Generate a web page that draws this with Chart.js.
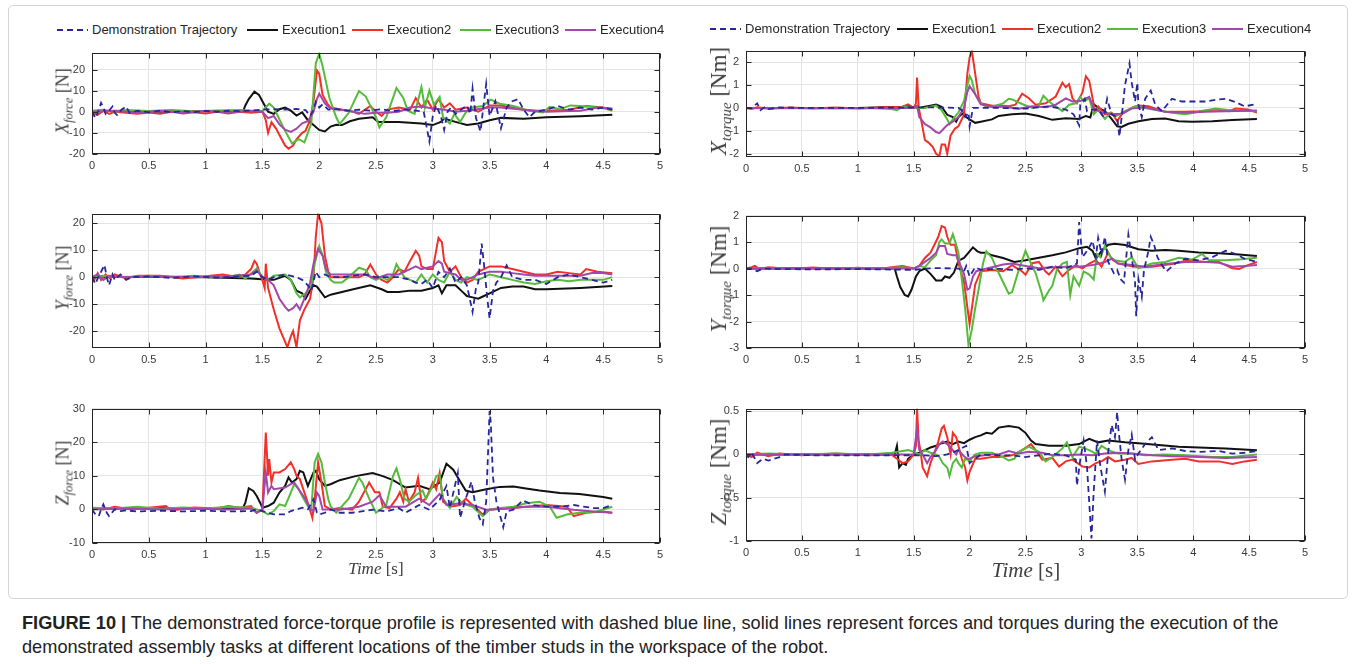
<!DOCTYPE html>
<html>
<head>
<meta charset="utf-8">
<script src="https://cdn.jsdelivr.net/npm/chart.js@4/dist/chart.umd.min.js"></script>
<style>
  body { margin: 0; background: #fff; width: 1355px; height: 664px; overflow: hidden; position: relative; font-family: "Liberation Sans", Arial, sans-serif; }
  #moldura { position: absolute; left: 8px; top: 5px; width: 1338px; height: 592px; border: 1px solid #d4d4d4; border-radius: 5px; }
  .painel { position: absolute; }
  .painel canvas { display: block; }
  .eixo-y { position: absolute; transform: translate(-50%, -50%) rotate(-90deg); white-space: nowrap; font-family: "Liberation Serif", "DejaVu Serif", serif; color: #404040; }
  .eixo-y i, .eixo-x i { font-style: italic; }
  .eixo-y sub { font-style: italic; vertical-align: -0.35em; line-height: 0; }
  .eixo-x { position: absolute; transform: translate(-50%, -50%); white-space: nowrap; font-family: "Liberation Serif", "DejaVu Serif", serif; color: #404040; }
  .leg { position: absolute; height: 16px; line-height: 16px; display: flex; align-items: center; font-size: 13px; color: #262626; white-space: nowrap; }
  .leg span.linha { display: inline-block; width: 31px; height: 2px; margin-right: 4px; }
  #legenda-fig { position: absolute; left: 22px; top: 611px; font-size: 18.2px; line-height: 24px; color: #222; white-space: nowrap; }
</style>
</head>
<body>
<div id="moldura"></div>
<div id="legenda-fig"><b>FIGURE 10 |</b> The demonstrated force-torque profile is represented with dashed blue line, solid lines represent forces and torques during the execution of the<br>demonstrated assembly tasks at different locations of the timber studs in the workspace of the robot.</div>
<script>
// DATA
const seriesNames = ['Demonstration Trajectory', 'Execution1', 'Execution2', 'Execution3', 'Execution4'];
const timeTicks = [0, 0.5, 1, 1.5, 2, 2.5, 3, 3.5, 4, 4.5, 5];

// X force [N]
const xfTicks = [-20, -10, 0, 10, 20];
const xfDemo = [[0,0],[0.03,-3],[0.06,1],[0.08,4.2],[0.1,2],[0.12,-1],[0.15,0.5],[0.18,2.5],[0.2,-0.5],[0.22,-1.5],[0.26,1],[0.3,2.5],[0.33,-0.5],[0.4,0.5],[0.5,-0.3],[0.6,0.5],[0.7,-0.3],[0.8,0.3],[0.9,-0.2],[1.0,0.4],[1.1,0],[1.2,0.5],[1.3,0.3],[1.4,0.6],[1.5,1],[1.6,1.2],[1.7,1],[1.8,1.3],[1.88,0.8],[1.92,-2],[1.95,1],[1.97,4.7],[2.0,2],[2.03,3.5],[2.08,1],[2.15,1.2],[2.25,0.5],[2.35,1],[2.45,0.5],[2.55,1.2],[2.65,0.3],[2.75,1],[2.85,0.5],[2.92,0],[2.97,-14],[3.0,-2],[3.03,3],[3.07,-2],[3.1,-8.6],[3.13,0],[3.16,2],[3.2,-1],[3.25,1],[3.3,3],[3.33,-1],[3.35,11],[3.38,-3],[3.42,-9.3],[3.44,0],[3.47,13.2],[3.5,-2],[3.55,5],[3.6,-7.8],[3.65,2],[3.7,5],[3.75,6],[3.8,1],[3.85,-2.6],[3.9,0],[4.0,1],[4.1,2.7],[4.2,1],[4.3,2],[4.4,1],[4.5,2],[4.58,1]];
const xfExec1 = [[0,0.2],[0.3,0.5],[0.6,0],[0.9,0.3],[1.2,0],[1.33,0.2],[1.35,3],[1.38,6],[1.43,9.5],[1.47,8],[1.5,5],[1.55,0],[1.6,-1],[1.65,1.2],[1.7,2],[1.75,0.5],[1.8,-1.8],[1.85,-0.3],[1.9,-4],[1.95,-6.3],[2.0,-8.6],[2.05,-9.3],[2.1,-7],[2.15,-6.2],[2.2,-6.3],[2.27,-4.5],[2.35,-3.3],[2.47,-2.6],[2.52,-4.8],[2.7,-4.8],[2.9,-5.6],[3.0,-6.3],[3.07,-4.8],[3.1,-3.3],[3.2,-4.8],[3.3,-6.3],[3.4,-5.6],[3.5,-4],[3.6,-2.9],[3.8,-3.3],[4.0,-2.6],[4.3,-2.1],[4.58,-1.4]];
const xfExec2 = [[0,-0.5],[0.05,-1.5],[0.1,0.5],[0.15,-1],[0.2,0],[0.3,-0.5],[0.4,-1],[0.5,-0.3],[0.6,-1],[0.7,0],[0.8,-0.8],[0.9,-0.2],[1.0,-0.8],[1.1,0],[1.2,-0.8],[1.3,0],[1.4,-0.5],[1.5,0],[1.53,-4],[1.55,-10],[1.58,-5],[1.62,-8],[1.65,-11],[1.7,-16],[1.73,-17.5],[1.77,-16],[1.8,-13],[1.85,-10],[1.88,-9],[1.92,-4],[1.95,5],[1.98,19.5],[2.0,18],[2.03,8],[2.07,4],[2.1,2],[2.2,1],[2.3,0],[2.35,-1],[2.45,2.7],[2.5,0],[2.55,-2],[2.6,1],[2.7,2],[2.8,1],[2.85,6.5],[2.9,2],[2.95,5.7],[3.0,1],[3.05,6],[3.1,2],[3.15,4],[3.2,1],[3.3,2],[3.4,0],[3.5,3],[3.6,3],[3.7,2],[3.8,1],[3.9,0.5],[4.0,0.5],[4.2,1],[4.35,2.7],[4.5,2],[4.58,1]];
const xfExec3 = [[0,0.5],[0.1,1],[0.2,0],[0.3,0.8],[0.5,0.3],[0.7,0.8],[0.9,0.2],[1.1,0.6],[1.3,0.8],[1.45,0.3],[1.5,0.5],[1.56,3.8],[1.6,2],[1.68,-7],[1.76,-15],[1.82,-13],[1.87,-14.5],[1.93,-5.6],[1.97,23],[2.0,27.5],[2.03,21.5],[2.09,6.5],[2.15,-2.6],[2.18,-5.9],[2.26,-0.5],[2.35,9.8],[2.41,7.2],[2.5,-2.6],[2.53,-7.5],[2.59,-2.6],[2.68,11.3],[2.74,6.5],[2.78,0.5],[2.84,-1],[2.9,11.7],[2.93,2],[2.97,10],[3.01,3.4],[3.06,7],[3.09,-2.6],[3.15,-5.6],[3.19,-1],[3.24,-4.8],[3.29,-0.3],[3.35,2],[3.44,2.7],[3.51,5.7],[3.59,3.8],[3.71,2.7],[3.85,0.5],[3.97,-0.3],[4.03,2.3],[4.12,1.2],[4.21,3],[4.29,2.7],[4.41,2.3],[4.5,1.7],[4.58,0.5]];
const xfExec4 = [[0,0],[0.2,0.5],[0.4,-0.3],[0.6,0.3],[0.8,-0.2],[1.0,0.3],[1.2,-0.2],[1.4,0.3],[1.5,0],[1.55,-3],[1.6,-2],[1.65,-6],[1.7,-8.5],[1.75,-9.5],[1.8,-8],[1.85,-5.5],[1.9,-4.5],[1.95,0],[1.98,6],[2.0,8.5],[2.05,4],[2.1,1.5],[2.2,1],[2.3,0],[2.4,-1],[2.5,-0.5],[2.6,-0.5],[2.7,0],[2.8,2],[2.9,2.5],[3.0,1.5],[3.1,1],[3.2,0],[3.3,0.5],[3.5,2],[3.6,2],[3.8,1],[4.0,0],[4.3,0.5],[4.45,2],[4.58,1.5]];

// Y force [N]
const yfTicks = [-20, -10, 0, 10, 20];
const yfDemo = [[0,0],[0.03,-2.5],[0.06,0.5],[0.08,2],[0.11,4.5],[0.13,0],[0.15,-3],[0.18,1],[0.2,-1],[0.25,1],[0.3,-1],[0.35,0],[0.5,0.3],[0.7,-0.3],[0.9,0.3],[1.1,-0.2],[1.3,0.3],[1.4,0.5],[1.45,2],[1.5,0],[1.55,-1],[1.6,0],[1.7,1],[1.8,0],[1.85,-1],[1.9,-3],[1.93,-5],[1.97,2],[2.0,0],[2.05,1],[2.1,0],[2.2,0],[2.4,1],[2.5,0],[2.7,0],[2.8,-1],[2.85,-2],[2.9,-2.5],[2.95,-1],[3.0,-4],[3.05,2],[3.1,0],[3.15,3.2],[3.2,-2],[3.25,0],[3.3,-3],[3.35,-12.9],[3.38,-4],[3.4,-2],[3.43,12.5],[3.45,5],[3.48,-8],[3.5,-15.3],[3.53,-5],[3.56,-2],[3.6,0],[3.65,4.4],[3.7,0],[3.8,-1],[3.9,-1],[4.0,-2.5],[4.1,0],[4.2,1],[4.3,0],[4.4,-1],[4.5,-2],[4.58,-1]];
const yfExec1 = [[0,0],[0.5,0.2],[1.0,0],[1.4,-0.5],[1.55,-1],[1.6,-1],[1.7,0.5],[1.75,-1],[1.8,-5],[1.85,-6],[1.88,-8],[1.92,-5],[1.95,-3],[1.98,-3.5],[2.05,-7.5],[2.1,-6.5],[2.2,-5.5],[2.3,-4.5],[2.45,-3],[2.55,-4.5],[2.6,-5.5],[2.7,-5.5],[2.8,-5],[2.9,-5],[3.0,-4],[3.05,-3],[3.08,-6],[3.12,-3],[3.2,-3],[3.25,-5],[3.3,-7],[3.35,-7.5],[3.4,-8],[3.45,-7],[3.5,-6],[3.6,-4],[3.7,-3.5],[3.8,-3.5],[3.9,-4.5],[4.0,-4.5],[4.3,-4],[4.58,-3.3]];
const yfExec2 = [[0,1],[0.02,-1],[0.05,1.5],[0.08,-1],[0.12,1],[0.16,-0.5],[0.2,1],[0.3,-0.5],[0.4,0.5],[0.6,0.5],[0.8,-0.5],[1.0,0.3],[1.15,1],[1.3,0],[1.35,1],[1.4,3],[1.43,6],[1.45,5],[1.48,1],[1.5,-1],[1.52,-4],[1.53,5],[1.55,-4],[1.6,-12],[1.65,-19],[1.7,-24],[1.72,-26],[1.75,-22],[1.77,-20],[1.8,-26],[1.83,-16],[1.87,-12],[1.92,-8],[1.95,0],[1.97,15],[1.99,23.5],[2.02,20],[2.05,8],[2.08,2],[2.1,0],[2.2,0],[2.35,0],[2.4,1],[2.45,4.7],[2.5,1],[2.55,-1],[2.6,-2],[2.65,0],[2.7,3],[2.75,2],[2.8,6],[2.85,9.8],[2.88,8],[2.9,4],[2.95,3],[3.0,3],[3.05,14.6],[3.08,13],[3.1,6],[3.15,2],[3.2,4],[3.25,0],[3.3,-2],[3.35,-1],[3.4,2],[3.5,4],[3.6,4],[3.7,3],[3.8,2],[3.9,1],[4.0,1],[4.1,2],[4.2,1.5],[4.3,1],[4.35,3],[4.45,2],[4.58,1.5]];
const yfExec3 = [[0,0],[0.1,0.5],[0.3,0],[0.5,0.5],[0.7,0],[0.9,0.5],[1.1,0],[1.25,0.5],[1.3,1],[1.35,-0.5],[1.45,3.2],[1.5,0],[1.55,-1],[1.6,0.5],[1.7,1],[1.75,-1],[1.8,-6],[1.83,-7.5],[1.88,-6],[1.93,-3],[1.96,5],[2.0,11.5],[2.03,8],[2.06,2],[2.1,-1],[2.13,-2],[2.2,-2],[2.26,0],[2.35,3.5],[2.41,2.6],[2.45,0],[2.5,-1],[2.55,0],[2.6,-1],[2.65,1],[2.68,4.8],[2.72,2],[2.75,0],[2.8,-1],[2.85,-2],[2.9,1],[2.95,-2],[3.0,1],[3.05,-1],[3.1,-2],[3.15,2],[3.2,-1],[3.25,-2],[3.3,0],[3.4,-1],[3.5,1],[3.55,0.5],[3.6,0],[3.7,-1],[3.8,-2],[3.9,-2.5],[4.0,-1.5],[4.1,-1],[4.2,-1.5],[4.3,-1],[4.4,-1],[4.5,-1],[4.58,0]];
const yfExec4 = [[0,0],[0.05,1],[0.1,-1],[0.15,0.5],[0.3,0],[0.6,0.3],[0.9,0],[1.2,0.3],[1.4,1],[1.45,2.5],[1.5,0],[1.55,-1],[1.6,-3],[1.65,-8],[1.7,-11],[1.73,-12.5],[1.77,-11.5],[1.8,-10],[1.83,-12],[1.87,-8],[1.92,-2],[1.95,5],[1.99,10.5],[2.03,8],[2.06,3],[2.1,1],[2.2,1],[2.3,1],[2.4,1],[2.5,-0.5],[2.6,1],[2.7,1],[2.8,3],[2.85,4],[2.9,3],[3.0,4],[3.05,6],[3.08,5],[3.1,2],[3.2,1],[3.25,-1],[3.3,-1],[3.4,1],[3.5,2],[3.6,2],[3.7,1.5],[3.8,1],[3.9,0.5],[4.0,0.5],[4.2,0.5],[4.3,0.5],[4.4,1.5],[4.5,1.5],[4.58,1]];

// Z force [N]
const zfTicks = [-10, 0, 10, 20, 30];
const zfDemo = [[0,0],[0.03,-1.5],[0.06,-2],[0.08,0],[0.1,1.5],[0.13,-1],[0.15,-2],[0.2,0],[0.25,-0.5],[0.3,-0.3],[0.4,-0.6],[0.6,-0.4],[0.8,-0.6],[1.0,-0.4],[1.2,-0.6],[1.4,-0.5],[1.45,0],[1.5,-0.5],[1.55,-1],[1.6,-1.5],[1.7,-1.5],[1.75,-0.5],[1.8,0],[1.85,0.5],[1.9,0],[1.95,3],[1.98,-1],[2.0,-1.5],[2.05,-1],[2.1,0],[2.18,-1],[2.29,-1],[2.47,-0.1],[2.59,-0.6],[2.7,0.4],[2.76,-1],[2.88,1.3],[2.97,-0.1],[3.06,2.8],[3.12,7],[3.15,0.4],[3.22,10.8],[3.24,-2.5],[3.29,3.2],[3.34,8.2],[3.37,2.3],[3.41,-2.5],[3.44,-4.4],[3.47,2.3],[3.5,29.3],[3.51,26],[3.53,9.5],[3.56,2.3],[3.59,-1.5],[3.62,-5.3],[3.65,-0.6],[3.71,-0.1],[3.79,2.7],[3.88,1.3],[4.0,0.8],[4.12,0.8],[4.24,1.3],[4.41,0.4],[4.5,0.4],[4.58,1.3]];
const zfExec1 = [[0,0.2],[0.5,0.4],[1.0,0.3],[1.33,0.5],[1.35,2],[1.38,6.3],[1.42,5.5],[1.45,4],[1.48,2],[1.5,0.5],[1.55,1],[1.6,2],[1.65,5],[1.7,7],[1.73,9.5],[1.76,8],[1.8,9],[1.83,11.5],[1.86,11],[1.9,7],[1.95,11],[1.97,11.5],[2.0,9],[2.05,7],[2.1,7.5],[2.18,8.7],[2.32,9.9],[2.47,10.8],[2.56,9.9],[2.65,8.7],[2.76,6.5],[2.88,7],[2.97,6],[3.06,8],[3.12,13.6],[3.18,11.8],[3.24,8.4],[3.29,5.6],[3.35,5.1],[3.47,6],[3.59,6.7],[3.71,6.8],[3.82,6.2],[3.94,5.6],[4.12,4.9],[4.29,4.6],[4.5,3.7],[4.58,3.2]];
const zfExec2 = [[0,0.5],[0.1,0],[0.2,0.8],[0.35,0],[0.5,0.5],[0.65,1],[0.7,-0.3],[0.9,0.6],[1.1,0.3],[1.2,1],[1.3,0.5],[1.4,1],[1.45,-1],[1.5,0],[1.53,22.9],[1.55,10],[1.56,15],[1.58,8],[1.6,11],[1.65,11],[1.7,12],[1.75,14],[1.78,12],[1.8,10],[1.83,9],[1.87,5],[1.9,2],[1.94,-2.5],[1.96,3],[1.99,14],[2.02,8],[2.05,1],[2.1,0],[2.18,0.4],[2.29,-0.1],[2.35,2.3],[2.44,8],[2.49,5.1],[2.53,5.1],[2.56,0.8],[2.62,0.4],[2.68,3.2],[2.71,5.1],[2.74,2.3],[2.76,6],[2.79,2.3],[2.84,5.1],[2.87,9.4],[2.9,2.3],[2.94,3.2],[3.0,8],[3.03,6],[3.06,10.8],[3.09,2.3],[3.15,0.8],[3.24,1.3],[3.29,3.2],[3.35,1.3],[3.44,-1.5],[3.5,-0.1],[3.65,0.4],[3.82,0.8],[4.0,1.3],[4.18,0.8],[4.24,-2],[4.35,-1],[4.5,-0.6],[4.58,-1]];
const zfExec3 = [[0,0.5],[0.2,0.3],[0.4,0.8],[0.6,0.2],[0.8,0.6],[1.0,0.3],[1.2,0.8],[1.4,0.5],[1.5,-0.5],[1.55,-1.5],[1.6,-0.5],[1.65,1.5],[1.7,1],[1.75,5],[1.78,7.5],[1.82,6],[1.85,4],[1.9,1],[1.93,0],[1.96,14],[1.99,16.5],[2.02,14],[2.05,8],[2.08,3],[2.1,1],[2.15,-1],[2.2,1],[2.26,3.2],[2.35,9.4],[2.38,8],[2.44,3.2],[2.5,-1],[2.59,1.3],[2.65,9.9],[2.68,12.2],[2.71,8.9],[2.75,3.2],[2.79,2.3],[2.85,4.2],[2.91,5.6],[2.94,3.2],[3.0,7],[3.03,9.9],[3.06,10.4],[3.09,3.2],[3.15,0.4],[3.21,3.7],[3.26,1.8],[3.35,0.8],[3.44,-2],[3.5,-0.1],[3.59,0.4],[3.71,0.8],[3.82,1.8],[3.94,2.3],[4.03,0.8],[4.09,-2.5],[4.18,-1.5],[4.29,-1],[4.44,-0.6],[4.58,0.8]];
const zfExec4 = [[0,0],[0.3,0.3],[0.6,0],[0.9,0.3],[1.2,0],[1.4,0.3],[1.45,-1],[1.5,0],[1.53,11],[1.55,5],[1.58,7],[1.6,6],[1.7,6.5],[1.75,7.5],[1.78,8],[1.82,6],[1.88,3],[1.92,0],[1.95,-0.5],[1.98,5],[2.0,4],[2.03,0],[2.1,0],[2.18,-0.1],[2.35,0.8],[2.47,2.3],[2.53,4.2],[2.59,0.8],[2.76,0.8],[2.88,3.2],[2.97,1.3],[3.06,4.6],[3.12,1.3],[3.24,1.8],[3.35,1.3],[3.47,-0.1],[3.65,0.2],[3.82,0.8],[4.0,0.8],[4.24,-0.1],[4.41,-0.6],[4.58,-1]];

// X torque [Nm]
const xtTicks = [-2, -1, 0, 1, 2];
const xtDemo = [[0,0],[0.05,0],[0.1,0.2],[0.13,-0.1],[0.17,0.05],[0.2,-0.05],[0.3,0.02],[0.5,0],[1.0,0],[1.5,0.02],[1.7,0.02],[1.9,0],[1.93,-0.1],[1.96,-0.4],[1.99,-0.2],[2.0,-0.8],[2.03,0],[2.1,0],[2.26,0],[2.5,-0.03],[2.71,0.07],[2.86,-0.07],[2.93,-0.28],[2.98,-0.76],[2.99,0.14],[3.03,0.4],[3.05,-0.14],[3.1,-0.07],[3.15,-0.07],[3.2,-0.4],[3.23,0.4],[3.27,-0.28],[3.32,-0.4],[3.34,-1.25],[3.36,-0.4],[3.39,1.0],[3.43,1.94],[3.45,1.1],[3.48,0.28],[3.5,1.1],[3.51,0.14],[3.54,-0.4],[3.57,0.4],[3.62,0.76],[3.66,0.14],[3.72,-0.14],[3.81,0.4],[3.9,0.28],[3.99,0.28],[4.11,0.28],[4.2,0.35],[4.29,0.4],[4.38,0.25],[4.46,0.07],[4.57,0.17]];
const xtExec1 = [[0,0],[0.5,0],[1.0,0],[1.4,0.05],[1.45,0.1],[1.5,0],[1.55,0],[1.6,0.05],[1.65,0.1],[1.7,0.15],[1.75,0.05],[1.8,-0.3],[1.85,-0.4],[1.88,-0.6],[1.9,-0.4],[1.95,-0.2],[1.97,-0.4],[2.0,-0.5],[2.05,-0.65],[2.1,-0.6],[2.2,-0.5],[2.26,-0.35],[2.38,-0.28],[2.5,-0.24],[2.62,-0.35],[2.74,-0.52],[2.86,-0.45],[2.98,-0.48],[3.04,-0.35],[3.08,-0.42],[3.11,0.17],[3.15,0],[3.21,-0.14],[3.27,-0.48],[3.32,-0.8],[3.36,-0.83],[3.42,-0.69],[3.51,-0.58],[3.63,-0.48],[3.75,-0.46],[3.87,-0.58],[3.99,-0.6],[4.17,-0.58],[4.35,-0.53],[4.57,-0.48]];
const xtExec2 = [[0,0],[0.05,-0.05],[0.1,0.03],[0.2,-0.03],[0.4,0.02],[0.6,-0.02],[0.8,0.02],[1.0,-0.02],[1.2,0.02],[1.4,0.05],[1.45,0.15],[1.5,0],[1.52,0.2],[1.53,1.32],[1.545,0],[1.57,-0.6],[1.6,-1.4],[1.63,-1.5],[1.67,-1.7],[1.7,-2.0],[1.73,-2.1],[1.75,-1.6],[1.78,-1.6],[1.8,-2.0],[1.83,-1.2],[1.87,-0.9],[1.9,-0.8],[1.95,-0.3],[1.98,1.5],[2.0,2.2],[2.02,2.5],[2.05,1.5],[2.08,0.5],[2.1,0.2],[2.2,0.1],[2.3,0.1],[2.35,0.07],[2.41,0.14],[2.47,0.62],[2.53,0.42],[2.59,0.14],[2.68,0.2],[2.77,0.5],[2.83,1.1],[2.86,0.9],[2.89,1.04],[2.92,0.42],[2.96,0.2],[3.01,0.69],[3.04,1.38],[3.07,1.18],[3.1,0.42],[3.12,-0.14],[3.15,0.07],[3.21,-0.28],[3.27,-0.21],[3.32,-0.58],[3.36,-0.28],[3.45,0],[3.51,0.11],[3.6,0.07],[3.75,-0.17],[3.93,-0.17],[4.05,-0.14],[4.2,-0.07],[4.32,-0.14],[4.38,-0.03],[4.49,-0.07],[4.57,-0.2]];
const xtExec3 = [[0,0],[0.2,-0.03],[0.5,0],[0.8,-0.03],[1.1,0],[1.3,-0.05],[1.35,-0.1],[1.4,0.05],[1.5,0],[1.6,0],[1.7,0.1],[1.75,-0.1],[1.8,-0.5],[1.82,-0.7],[1.85,-0.5],[1.9,-0.2],[1.95,0.3],[1.98,1.0],[2.0,1.4],[2.02,1.2],[2.05,0.6],[2.1,0.2],[2.15,0.05],[2.2,0.05],[2.3,0.2],[2.35,0.4],[2.38,0.37],[2.47,0.17],[2.56,0],[2.62,0.11],[2.66,0.53],[2.71,0.28],[2.77,0.07],[2.83,-0.14],[2.89,0.14],[2.95,0.2],[2.99,0.48],[3.02,0.28],[3.07,0.42],[3.11,-0.28],[3.15,-0.07],[3.21,-0.48],[3.26,-0.21],[3.3,-0.39],[3.39,-0.14],[3.48,0.07],[3.57,0],[3.69,-0.11],[3.81,-0.21],[3.93,-0.28],[4.05,-0.17],[4.2,-0.03],[4.35,-0.11],[4.57,-0.14]];
const xtExec4 = [[0,0],[0.5,0],[1.0,0],[1.5,0],[1.53,0.1],[1.55,-0.4],[1.6,-0.7],[1.65,-0.85],[1.7,-1.05],[1.73,-1.1],[1.77,-0.9],[1.8,-0.75],[1.85,-0.6],[1.9,-0.4],[1.95,0],[1.98,0.7],[2.0,0.95],[2.05,0.6],[2.1,0.15],[2.2,0.05],[2.3,0.05],[2.44,-0.03],[2.56,0.07],[2.68,0.03],[2.77,0.14],[2.86,0.42],[2.92,0.28],[2.99,0.3],[3.07,0.48],[3.11,0],[3.18,-0.21],[3.27,-0.28],[3.36,-0.25],[3.45,-0.03],[3.57,0.03],[3.75,-0.17],[3.93,-0.21],[4.11,-0.17],[4.29,-0.14],[4.57,-0.11]];

// Y torque [Nm]
const ytTicks = [-3, -2, -1, 0, 1, 2];
const ytDemo = [[0,0],[0.05,0],[0.1,-0.1],[0.15,0],[0.3,-0.02],[0.6,-0.03],[1.0,-0.02],[1.5,-0.05],[1.6,0],[1.7,0.02],[1.9,0],[1.95,-0.1],[1.97,0.1],[2.0,-0.3],[2.05,0.05],[2.1,-0.05],[2.2,-0.02],[2.26,-0.01],[2.38,-0.05],[2.5,0.01],[2.62,-0.05],[2.74,0.07],[2.86,0.01],[2.96,0.19],[2.98,1.76],[2.99,1.28],[3.01,0.43],[3.04,0.61],[3.07,0.8],[3.1,1.04],[3.13,0.43],[3.15,1.16],[3.18,0.55],[3.21,1.2],[3.24,0.25],[3.29,-0.17],[3.32,-0.05],[3.35,-0.4],[3.38,-0.53],[3.42,1.28],[3.45,0.43],[3.48,-0.53],[3.49,-1.8],[3.51,-0.4],[3.54,-1.07],[3.56,-0.05],[3.6,0.67],[3.62,1.2],[3.65,0.9],[3.68,0.43],[3.72,0.13],[3.76,-0.11],[3.84,0.19],[3.93,0.37],[4.05,0.31],[4.17,0.43],[4.29,0.67],[4.38,0.55],[4.46,0.37],[4.57,0.25]];
const ytExec1 = [[0,0],[0.5,0],[1.0,0],[1.33,0],[1.35,-0.3],[1.38,-0.7],[1.42,-1.0],[1.45,-1.05],[1.48,-0.8],[1.52,-0.3],[1.55,-0.1],[1.6,0],[1.65,-0.2],[1.7,-0.45],[1.75,-0.45],[1.78,-0.3],[1.82,-0.35],[1.86,-0.15],[1.9,0.3],[1.95,0.4],[2.0,0.65],[2.03,0.8],[2.07,0.65],[2.1,0.6],[2.15,0.6],[2.2,0.5],[2.3,0.4],[2.4,0.25],[2.5,0.31],[2.62,0.41],[2.74,0.5],[2.86,0.61],[2.98,0.77],[3.05,0.82],[3.1,0.67],[3.13,0.37],[3.18,0.67],[3.24,0.9],[3.3,0.94],[3.39,0.89],[3.51,0.73],[3.63,0.67],[3.75,0.7],[3.87,0.67],[4.05,0.61],[4.23,0.58],[4.41,0.53],[4.57,0.47]];
const ytExec2 = [[0,0],[0.05,0.05],[0.08,0.1],[0.12,-0.02],[0.2,0.05],[0.4,-0.02],[0.6,0.04],[0.8,-0.02],[1.0,0.03],[1.2,-0.02],[1.3,0.05],[1.4,0.1],[1.5,0],[1.55,0.1],[1.6,0.4],[1.65,0.6],[1.68,0.85],[1.72,1.2],[1.75,1.6],[1.78,1.55],[1.8,1.2],[1.83,0.9],[1.87,0.9],[1.9,0.2],[1.95,-0.5],[2.0,-2.1],[2.02,-1.5],[2.05,-0.6],[2.1,-0.1],[2.2,-0.05],[2.3,-0.1],[2.38,0.13],[2.47,-0.11],[2.5,-0.23],[2.56,0.2],[2.62,0.25],[2.68,-0.11],[2.71,-0.23],[2.77,0.07],[2.83,-0.29],[2.89,-0.05],[2.95,0.13],[3.01,0.01],[3.07,0.19],[3.13,0.31],[3.18,0.07],[3.24,0.61],[3.27,0.37],[3.33,0.19],[3.39,0.13],[3.51,0.05],[3.63,0.07],[3.81,0.17],[3.96,0.31],[4.11,0.25],[4.23,0.25],[4.35,0.01],[4.41,-0.02],[4.49,0.13],[4.57,0.25]];
const ytExec3 = [[0,0],[0.3,0.02],[0.6,-0.02],[0.9,0.02],[1.2,0],[1.4,0.05],[1.5,0],[1.55,0.1],[1.6,0.05],[1.65,0.3],[1.7,0.5],[1.73,1.0],[1.75,1.1],[1.78,0.95],[1.82,0.95],[1.85,1.3],[1.88,0.9],[1.9,0.6],[1.93,-0.4],[1.96,-1.5],[1.99,-2.9],[2.02,-2.3],[2.05,-1.5],[2.08,-0.8],[2.1,-0.3],[2.12,0.2],[2.15,0.65],[2.2,0.4],[2.26,-0.17],[2.35,-0.95],[2.38,-0.89],[2.44,-0.05],[2.5,0.67],[2.53,0.37],[2.59,-0.17],[2.65,-1.0],[2.66,-1.2],[2.71,-0.83],[2.74,-0.65],[2.78,-0.05],[2.83,0.19],[2.87,0.25],[2.9,-1.0],[2.93,-0.29],[2.98,-0.65],[3.02,-0.11],[3.07,-0.23],[3.11,-0.41],[3.14,0.55],[3.17,0.43],[3.21,0.85],[3.26,0.43],[3.3,0.31],[3.39,0.25],[3.45,0.43],[3.51,0.01],[3.63,0.19],[3.75,0.25],[3.87,0.41],[3.99,0.34],[4.08,0.55],[4.14,0.31],[4.29,0.31],[4.43,0.35],[4.57,0.41]];
const ytExec4 = [[0,0],[0.5,0.02],[1.0,0],[1.5,0],[1.55,0.1],[1.6,0.25],[1.65,0.4],[1.7,0.6],[1.73,0.85],[1.78,0.85],[1.8,0.55],[1.85,0.5],[1.88,0.5],[1.9,0.3],[1.95,-0.2],[1.98,-0.8],[2.0,-0.75],[2.03,-0.3],[2.06,-0.1],[2.1,-0.05],[2.2,0.05],[2.3,0.15],[2.38,0.19],[2.5,0.1],[2.62,0.01],[2.74,0.05],[2.86,0.07],[2.98,0.07],[3.1,0.13],[3.21,0.25],[3.27,0.37],[3.33,0.19],[3.45,0.13],[3.57,0.07],[3.75,0.17],[3.93,0.25],[4.11,0.25],[4.23,0.22],[4.35,0.07],[4.46,0.1],[4.57,0.13]];

// Z torque [Nm]
const ztTicks = [-1, -0.5, 0, 0.5];
const ztDemo = [[0,0],[0.02,-0.03],[0.05,0.02],[0.08,-0.05],[0.1,-0.1],[0.13,-0.07],[0.15,-0.05],[0.2,-0.07],[0.25,-0.05],[0.3,-0.03],[0.35,0],[0.6,-0.01],[1.0,-0.01],[1.3,-0.01],[1.5,-0.01],[1.6,-0.01],[1.7,-0.02],[1.8,0],[1.9,0.05],[1.97,0.1],[2.0,-0.1],[2.1,0],[2.26,-0.01],[2.38,-0.01],[2.5,-0.03],[2.62,-0.01],[2.74,0.01],[2.86,-0.01],[2.95,-0.06],[2.96,-0.36],[2.99,-0.06],[3.02,0.16],[3.05,-0.14],[3.09,-0.97],[3.11,-0.43],[3.14,0.16],[3.17,-0.14],[3.21,-0.43],[3.24,0.03],[3.27,0.34],[3.3,0.2],[3.32,0.49],[3.33,0.31],[3.36,-0.06],[3.39,-0.29],[3.42,0.05],[3.45,0.23],[3.48,-0.06],[3.51,0.01],[3.57,0.12],[3.63,0.2],[3.69,0.05],[3.81,0.07],[3.93,0.04],[4.05,0.03],[4.23,0.04],[4.35,0.01],[4.46,0.02],[4.57,0.04]];
const ztExec1 = [[0,0],[0.5,0],[1.0,0],[1.33,0],[1.35,0.1],[1.37,-0.15],[1.4,-0.1],[1.43,-0.12],[1.45,-0.05],[1.5,0],[1.55,0.02],[1.6,0.05],[1.65,0.08],[1.7,0.1],[1.75,0.13],[1.8,0.15],[1.85,0.12],[1.9,0.15],[1.95,0.13],[2.0,0.17],[2.05,0.2],[2.1,0.22],[2.15,0.25],[2.2,0.24],[2.26,0.31],[2.35,0.33],[2.44,0.31],[2.5,0.25],[2.55,0.16],[2.59,0.12],[2.71,0.1],[2.86,0.1],[2.98,0.12],[3.07,0.18],[3.15,0.14],[3.24,0.16],[3.39,0.14],[3.51,0.13],[3.69,0.11],[3.87,0.09],[4.05,0.08],[4.29,0.07],[4.57,0.05]];
const ztExec2 = [[0,0],[0.05,-0.03],[0.1,0.02],[0.2,-0.02],[0.3,0.01],[0.5,-0.01],[0.8,0.01],[1.1,-0.01],[1.3,0],[1.35,-0.05],[1.4,-0.1],[1.45,-0.08],[1.5,0],[1.52,0.1],[1.53,0.53],[1.545,0.15],[1.56,0.05],[1.58,-0.15],[1.62,-0.25],[1.65,-0.1],[1.68,0],[1.72,0.15],[1.75,0.3],[1.77,0.33],[1.8,0.2],[1.83,0],[1.85,0.25],[1.88,0.2],[1.9,0.1],[1.93,-0.05],[1.96,-0.15],[1.98,-0.3],[2.0,-0.2],[2.05,-0.05],[2.1,-0.05],[2.2,-0.03],[2.26,-0.03],[2.38,-0.01],[2.47,0.05],[2.55,0.12],[2.59,0.05],[2.65,-0.06],[2.74,-0.04],[2.8,-0.14],[2.86,-0.08],[2.92,-0.06],[3.01,-0.14],[3.07,-0.15],[3.13,-0.1],[3.18,-0.08],[3.24,-0.03],[3.3,-0.08],[3.39,-0.06],[3.45,-0.04],[3.51,-0.11],[3.63,-0.08],[3.81,-0.06],[3.93,-0.05],[4.05,-0.08],[4.23,-0.08],[4.35,-0.11],[4.46,-0.08],[4.57,-0.06]];
const ztExec3 = [[0,0],[0.2,0.01],[0.5,0],[0.8,0.01],[1.1,0],[1.3,0.02],[1.35,0.03],[1.45,0.05],[1.5,0.03],[1.55,0],[1.6,0.05],[1.65,0.02],[1.7,0],[1.73,-0.03],[1.76,-0.1],[1.8,-0.15],[1.82,-0.25],[1.85,-0.1],[1.88,-0.05],[1.9,-0.1],[1.93,-0.15],[1.96,-0.05],[2.0,-0.07],[2.05,0],[2.1,0.02],[2.2,0.02],[2.3,-0.03],[2.35,-0.07],[2.4,-0.05],[2.44,0.03],[2.53,0.09],[2.62,0.03],[2.68,-0.08],[2.74,-0.03],[2.83,0.07],[2.87,0.14],[2.92,-0.03],[2.98,0.09],[3.07,0.05],[3.13,0.01],[3.18,0.1],[3.24,0.05],[3.33,0.01],[3.45,0.01],[3.57,-0.01],[3.75,0],[3.93,-0.01],[4.17,-0.03],[4.35,-0.03],[4.57,0]];
const ztExec4 = [[0,0],[0.5,0],[1.0,0],[1.5,0],[1.53,0.3],[1.55,0.05],[1.58,0],[1.6,-0.05],[1.62,-0.1],[1.65,-0.03],[1.7,0.05],[1.73,0.12],[1.76,0.15],[1.8,0.12],[1.85,0.05],[1.88,0],[1.9,0.05],[1.95,-0.02],[1.98,-0.05],[2.0,-0.05],[2.05,-0.02],[2.2,0],[2.26,0],[2.35,0.04],[2.44,0.01],[2.53,0.03],[2.65,0.02],[2.74,-0.01],[2.86,-0.01],[2.98,0],[3.1,-0.01],[3.21,0.01],[3.33,0.02],[3.45,0.01],[3.63,-0.01],[3.81,-0.02],[4.05,-0.03],[4.29,-0.04],[4.57,-0.03]];

// STYLE
const colors = ['#27279b', '#111111', '#f2302a', '#55bb3a', '#a347ab'];
const PAD_L = 45, PAD_R = 12, PAD_T = 8, PAD_B = 22;

// LAYOUT (plot area in page pixels)
const panels = [
  { left: 92,  top: 47,  w: 568, h: 107, min: -20,  max: 28,   ticks: xfTicks, series: [xfDemo, xfExec1, xfExec2, xfExec3, xfExec4], sym: 'X', sub: 'force',  unit: '[N]',  big: false },
  { left: 92,  top: 208, w: 568, h: 140, min: -26.3, max: 23.6, ticks: yfTicks, series: [yfDemo, yfExec1, yfExec2, yfExec3, yfExec4], sym: 'Y', sub: 'force',  unit: '[N]',  big: false },
  { left: 92,  top: 403, w: 568, h: 140, min: -10,  max: 30,   ticks: zfTicks, series: [zfDemo, zfExec1, zfExec2, zfExec3, zfExec4], sym: 'Z', sub: 'force',  unit: '[N]',  big: false },
  { left: 746, top: 45,  w: 559, h: 112, min: -2.14, max: 2.5, ticks: xtTicks, series: [xtDemo, xtExec1, xtExec2, xtExec3, xtExec4], sym: 'X', sub: 'torque', unit: '[Nm]', big: true },
  { left: 746, top: 210, w: 559, h: 138, min: -3,   max: 2,    ticks: ytTicks, series: [ytDemo, ytExec1, ytExec2, ytExec3, ytExec4], sym: 'Y', sub: 'torque', unit: '[Nm]', big: true },
  { left: 746, top: 403, w: 559, h: 138, min: -1,   max: 0.53, ticks: ztTicks, series: [ztDemo, ztExec1, ztExec2, ztExec3, ztExec4], sym: 'Z', sub: 'torque', unit: '[Nm]', big: true }
];

// box + inward ticks like MATLAB
const moldura = {
  id: 'moldura',
  afterDraw(chart) {
    const { ctx, chartArea: a, scales: { x, y } } = chart;
    const l = Math.round(a.left) + 0.5, r = Math.round(a.right) - 0.5;
    const t = Math.round(a.top) + 0.5, b = Math.round(a.bottom) - 0.5;
    ctx.save();
    ctx.strokeStyle = '#262626';
    ctx.lineWidth = 1;
    ctx.strokeRect(l, t, r - l, b - t);
    ctx.beginPath();
    x.ticks.forEach(tk => {
      const px = Math.round(x.getPixelForValue(tk.value)) + 0.5;
      ctx.moveTo(px, b); ctx.lineTo(px, b - 5);
      ctx.moveTo(px, t); ctx.lineTo(px, t + 5);
    });
    y.ticks.forEach(tk => {
      const py = Math.round(y.getPixelForValue(tk.value)) + 0.5;
      ctx.moveTo(l, py); ctx.lineTo(l + 5, py);
      ctx.moveTo(r, py); ctx.lineTo(r - 5, py);
    });
    ctx.stroke();
    ctx.restore();
  }
};

const formatTick = v => String(Math.round(v * 100) / 100);

function criarPainel(p) {
  const box = document.createElement('div');
  box.className = 'painel';
  box.style.left = (p.left - PAD_L) + 'px';
  box.style.top = (p.top - PAD_T) + 'px';
  const canvas = document.createElement('canvas');
  canvas.width = PAD_L + p.w + PAD_R;
  canvas.height = PAD_T + p.h + PAD_B;
  box.appendChild(canvas);
  document.body.appendChild(box);

  const tickFont = { family: '"Liberation Sans", Arial, sans-serif', size: 11 };
  const datasets = p.series.map((s, i) => ({
    label: seriesNames[i],
    data: s.map(([x, y]) => ({ x, y })),
    borderColor: colors[i],
    borderWidth: i === 0 ? 1.8 : 2,
    borderDash: i === 0 ? [6, 4] : [],
    pointRadius: 0,
    tension: 0,
    fill: false,
    order: i === 0 ? 0 : 5 - i
  }));

  new Chart(canvas, {
    type: 'line',
    data: { datasets },
    options: {
      responsive: false,
      animation: false,
      events: [],
      layout: { padding: { top: PAD_T, right: PAD_R, left: 0, bottom: 0 } },
      plugins: { legend: { display: false }, tooltip: { enabled: false } },
      scales: {
        x: {
          type: 'linear', min: 0, max: 5,
          afterBuildTicks: sc => { sc.ticks = timeTicks.map(v => ({ value: v })); },
          afterFit: sc => { sc.height = PAD_B; },
          grid: { color: '#e4e4e4', drawTicks: false },
          border: { display: false },
          ticks: { font: tickFont, color: '#3a3a3a', padding: 5, maxRotation: 0, autoSkip: false, callback: formatTick }
        },
        y: {
          type: 'linear', min: p.min, max: p.max,
          afterBuildTicks: sc => { sc.ticks = p.ticks.map(v => ({ value: v })); },
          afterFit: sc => { sc.width = PAD_L; },
          grid: { color: '#e4e4e4', drawTicks: false },
          border: { display: false },
          ticks: { font: tickFont, color: '#3a3a3a', padding: 7, autoSkip: false, callback: formatTick }
        }
      }
    },
    plugins: [moldura]
  });

  // y axis title
  const lab = document.createElement('div');
  lab.className = 'eixo-y';
  lab.style.left = (p.big ? 719 : 63) + 'px';
  lab.style.top = (p.top + p.h / 2) + 'px';
  lab.style.fontSize = (p.big ? 23 : 18) + 'px';
  lab.innerHTML = '<i>' + p.sym + '</i><sub style="font-size:' + (p.big ? 15 : 12.5) + 'px">' + p.sub + '</sub>&nbsp;' + p.unit;
  document.body.appendChild(lab);
}

panels.forEach(criarPainel);

// x axis titles
[[376, 569, 17], [1026, 570, 21]].forEach(([x, y, fs]) => {
  const d = document.createElement('div');
  d.className = 'eixo-x';
  d.style.left = x + 'px';
  d.style.top = y + 'px';
  d.style.fontSize = fs + 'px';
  d.innerHTML = '<i>Time</i> [s]';
  document.body.appendChild(d);
});

// legends
function criarLegenda(xs, y) {
  seriesNames.forEach((nome, i) => {
    const item = document.createElement('div');
    item.className = 'leg';
    item.style.left = xs[i] + 'px';
    item.style.top = (y - 8) + 'px';
    const linha = document.createElement('span');
    linha.className = 'linha';
    linha.style.background = i === 0
      ? 'repeating-linear-gradient(to right, ' + colors[0] + ' 0 6px, transparent 6px 10px)'
      : colors[i];
    item.appendChild(linha);
    item.appendChild(document.createTextNode(nome));
    document.body.appendChild(item);
  });
}
criarLegenda([57, 247, 352, 460, 565], 30);
criarLegenda([710, 897, 1002, 1107, 1212], 29);
</script>
</body>
</html>
